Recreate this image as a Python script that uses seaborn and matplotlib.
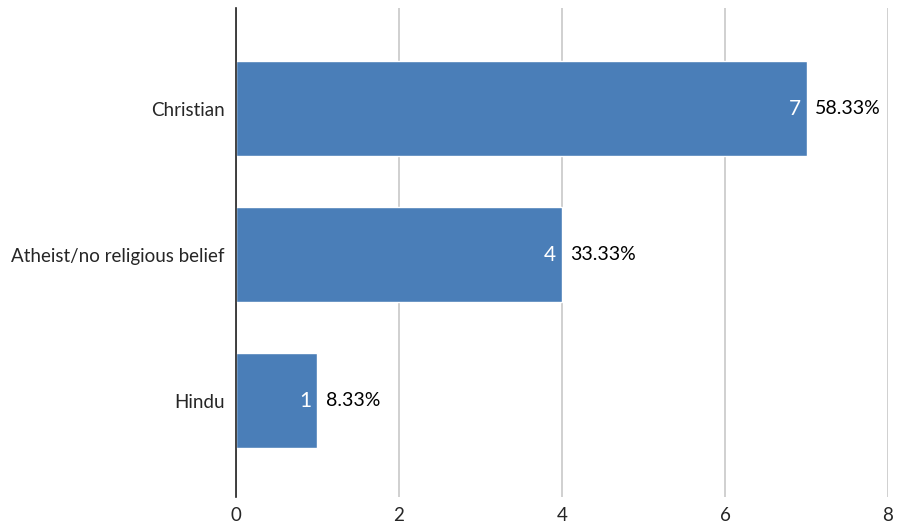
import matplotlib
matplotlib.use('Agg')
import matplotlib.pyplot as plt
import seaborn as sns
import pandas as pd

categories = ['Christian', 'Atheist/no religious belief', 'Hindu']
counts = [7, 4, 1]
percents = ['58.33%', '33.33%', '8.33%']
x_ticks = [0, 2, 4, 6, 8]

sns.set_style('white')
plt.rcParams['font.family'] = ['Lato', 'DejaVu Sans']

df = pd.DataFrame({'category': categories, 'count': counts})

fig = plt.figure(figsize=(8.98, 5.31), dpi=100)
ax = fig.add_axes([0.2628, 0.064, 0.7261, 0.921])

sns.barplot(data=df, x='count', y='category', color='#4a7eb8', saturation=1,
            width=0.65, ax=ax, zorder=3)

ax.set_xlim(0, 8)
ax.set_ylim(2.66, -0.69)
ax.set_xticks(x_ticks)
ax.set_xticklabels([str(t) for t in x_ticks], fontsize=13.5)
ax.tick_params(axis='y', labelsize=13.5, length=0, pad=8)
ax.tick_params(axis='x', length=0, pad=7)
ax.set_xlabel('')
ax.set_ylabel('')
ax.grid(axis='x', color='#c8c8c8', linewidth=1.2, zorder=0)

for s in ['top', 'right', 'bottom']:
    ax.spines[s].set_visible(False)
ax.spines['left'].set_color('#222222')
ax.spines['left'].set_linewidth(1.2)
ax.spines['left'].set_zorder(4)

for i, (c, p) in enumerate(zip(counts, percents)):
    ax.text(c - 0.07, i, str(c), color='white', ha='right', va='center',
            fontsize=15, zorder=5)
    ax.text(c + 0.1, i, p, color='black', ha='left', va='center',
            fontsize=14, zorder=5)

fig.savefig('out.png', dpi=100)
